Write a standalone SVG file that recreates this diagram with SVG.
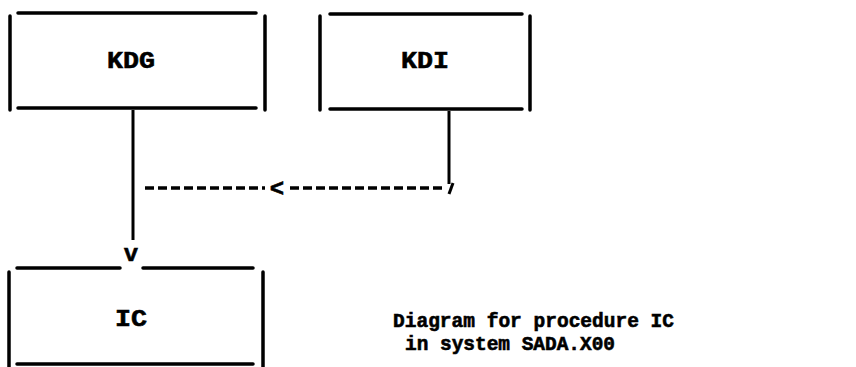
<svg xmlns="http://www.w3.org/2000/svg" width="856" height="367" viewBox="0 0 856 367">
<style>
.b{stroke:#000;stroke-width:3.5;fill:none;stroke-linecap:round}
.c{stroke:#000;stroke-width:3;fill:none}
.d{stroke:#000;stroke-width:3.5;fill:none;stroke-dasharray:9 4}
.t{font-family:"Liberation Mono","Courier New",monospace;font-weight:bold;font-size:20px;fill:#000;stroke:#000;stroke-width:0.6}
.L{font-size:24px}
.m{text-anchor:middle}
</style>
<rect width="856" height="367" fill="#fff"/>
<g id="KDG">
<path class="b" d="M18 13H256M18 108H256M10 16V110M265 16V110"/>
<text class="t L m" x="131" y="68" textLength="48" lengthAdjust="spacingAndGlyphs">KDG</text>
</g>
<g id="KDI">
<path class="b" d="M330 14H522M330 109H522M320 16V110M530 16V110"/>
<text class="t L m" x="425" y="68" textLength="48" lengthAdjust="spacingAndGlyphs">KDI</text>
</g>
<g id="IC">
<path class="b" d="M17 268H120M143 268H253M9 272V367M263 272V367M17 364H253"/>
<text class="t L m" x="131" y="326" textLength="32" lengthAdjust="spacingAndGlyphs">IC</text>
</g>
<g id="connectors">
<path class="c" d="M133 110V240"/>
<path class="c" d="M449 111V184"/>
<path class="d" d="M145 188H265M290 188H443"/>
<text class="t L m" x="277" y="196" font-size="26">&lt;</text>
<path class="c" d="M453 183L449 194"/>
<text class="t L m" x="131" y="261">v</text>
</g>
<g id="caption">
<text class="t" x="393" y="327" textLength="281" lengthAdjust="spacingAndGlyphs">Diagram for procedure IC</text>
<text class="t" x="405" y="350" textLength="210" lengthAdjust="spacingAndGlyphs">in system SADA.X00</text>
</g>
</svg>
